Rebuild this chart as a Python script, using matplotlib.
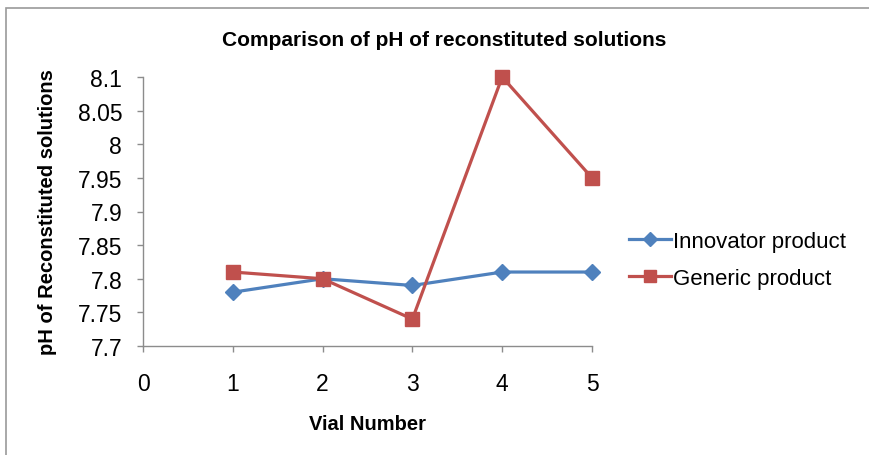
import matplotlib
matplotlib.use('Agg')
import matplotlib.pyplot as plt
import matplotlib.patches as mpatches

vials = [1, 2, 3, 4, 5]
innovator = [7.78, 7.80, 7.79, 7.81, 7.81]
generic = [7.81, 7.80, 7.74, 8.10, 7.95]
yticks = [7.7, 7.75, 7.8, 7.85, 7.9, 7.95, 8.0, 8.05, 8.1]
ytick_labels = ['7.7', '7.75', '7.8', '7.85', '7.9', '7.95', '8', '8.05', '8.1']

plt.rcParams['font.family'] = ['Liberation Sans', 'DejaVu Sans']

fig = plt.figure(figsize=(8.69, 4.56), dpi=100)
ax = fig.add_axes([143 / 869, 109 / 456, 449 / 869, 269 / 456])

# outer chart border
fig.patches.append(mpatches.Rectangle((6 / 869, -0.05), 1.1, 1 - 9 / 456 + 0.05,
                                      transform=fig.transFigure, fill=False,
                                      edgecolor='#9A9A9A', linewidth=1.2))

blue = '#4F81BD'
red = '#C0504D'
ax.plot(vials, innovator, color=blue, linewidth=2.3, marker='D', markersize=8.5,
        label='Innovator product', clip_on=False, zorder=3)
ax.plot(vials, generic, color=red, linewidth=2.3, marker='s', markersize=10,
        label='Generic product', clip_on=False, zorder=4)

ax.set_xlim(0, 5)
ax.set_ylim(7.7, 8.1)
ax.set_xticks(range(0, 6))
ax.set_yticks(yticks)
ax.set_yticklabels(ytick_labels)
ax.tick_params(axis='both', labelsize=16.5, colors='#8C8C8C', labelcolor='black',
               direction='out', length=4.5, width=1)
ax.tick_params(axis='x', pad=14)
ax.tick_params(axis='y', pad=10.5)

for s in ['top', 'right']:
    ax.spines[s].set_visible(False)
for s in ['left', 'bottom']:
    ax.spines[s].set_color('#8C8C8C')
    ax.spines[s].set_linewidth(1)

ax.set_xlabel('Vial Number', fontsize=14.5, fontweight='bold', labelpad=14)
ax.set_ylabel('pH of Reconstituted solutions', fontsize=14.5, fontweight='bold', labelpad=15)

fig.text(444 / 869, 1 - 40 / 456, 'Comparison of pH of reconstituted solutions',
         ha='center', va='center', fontsize=15, fontweight='bold')

leg = ax.legend(loc='center left', bbox_to_anchor=(609 / 869, 1 - 261 / 456),
                bbox_transform=fig.transFigure, frameon=False, markerscale=0.8,
                fontsize=16, handlelength=1.9, handletextpad=0.1, labelspacing=0.7)

fig.savefig('out.png', dpi=100, facecolor='white')
